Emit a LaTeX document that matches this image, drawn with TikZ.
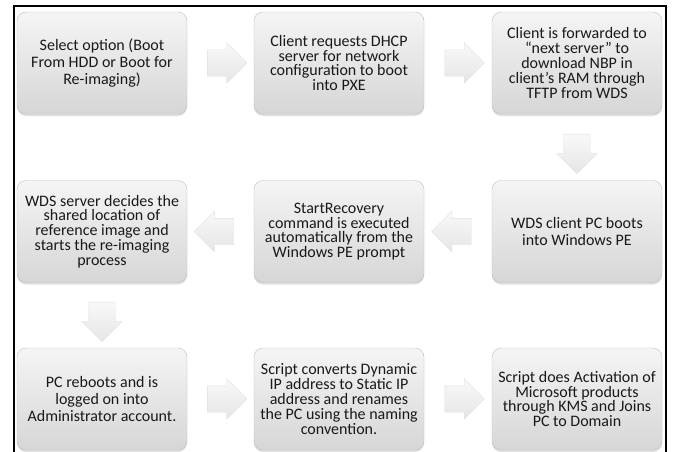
\documentclass[tikz,border=0pt]{standalone}
\usepackage{fontspec}
\setmainfont{Carlito}
\usetikzlibrary{shapes.arrows,shadows}

\begin{document}
\begin{tikzpicture}
	[x=1pt, y=-1pt,
	stepbox/.style={rectangle, rounded corners=9pt, minimum width=170pt, minimum height=102pt,
		draw=gray!50, top color=gray!8, bottom color=gray!32, align=center, text=black!90,
		font=\fontsize{16}{14.8}\selectfont,
		drop shadow={shadow xshift=0pt, shadow yshift=-2pt, opacity=0.25}},
	loose/.style={font=\fontsize{16}{16.6}\selectfont},
	bigarrow/.style={single arrow, minimum height=38pt, inner sep=13pt,
		single arrow head extend=7pt, draw=gray!25,
		top color=gray!5, bottom color=gray!20}]
	\useasboundingbox (0,0) rectangle (674,452);
	\draw[line width=1.2pt] (14,452) -- (14,6) -- (666,6) -- (666,452);

	\node[stepbox, loose] (s1) at (102,63) {Select option (Boot\\From HDD or Boot for\\Re-imaging)};
	\node[stepbox] (s2) at (339,63) {Client requests DHCP\\server for network\\configuration to boot\\into PXE};
	\node[stepbox] (s3) at (577,63) {Client is forwarded to\\“next server” to\\download NBP in\\client’s RAM through\\TFTP from WDS};

	\node[stepbox, loose] (s4) at (577,231.5) {WDS client PC boots\\into Windows PE};
	\node[stepbox] (s5) at (339,231.5) {StartRecovery\\command is executed\\automatically from the\\Windows PE prompt};
	\node[stepbox] (s6) at (102,231.5) {WDS server decides the\\shared location of\\reference image and\\starts the re-imaging\\process};

	\node[stepbox, loose] (s7) at (102,399) {PC reboots and is\\logged on into\\Administrator account.};
	\node[stepbox] (s8) at (339,399) {Script converts Dynamic\\IP address to Static IP\\address and renames\\the PC using the naming\\convention.};
	\node[stepbox] (s9) at (577,399) {Script does Activation of\\Microsoft products\\through KMS and Joins\\PC to Domain};

	% block arrows between the steps
	\path (s1) -- node[bigarrow] {} (s2);
	\path (s2) -- node[bigarrow] {} (s3);
	\path (s3) -- node[bigarrow, shape border rotate=270] {} (s4);
	\path (s4) -- node[bigarrow, shape border rotate=180] {} (s5);
	\path (s5) -- node[bigarrow, shape border rotate=180] {} (s6);
	\path (s6) -- node[bigarrow, shape border rotate=270] {} (s7);
	\path (s7) -- node[bigarrow] {} (s8);
	\path (s8) -- node[bigarrow] {} (s9);
\end{tikzpicture}
\end{document}
